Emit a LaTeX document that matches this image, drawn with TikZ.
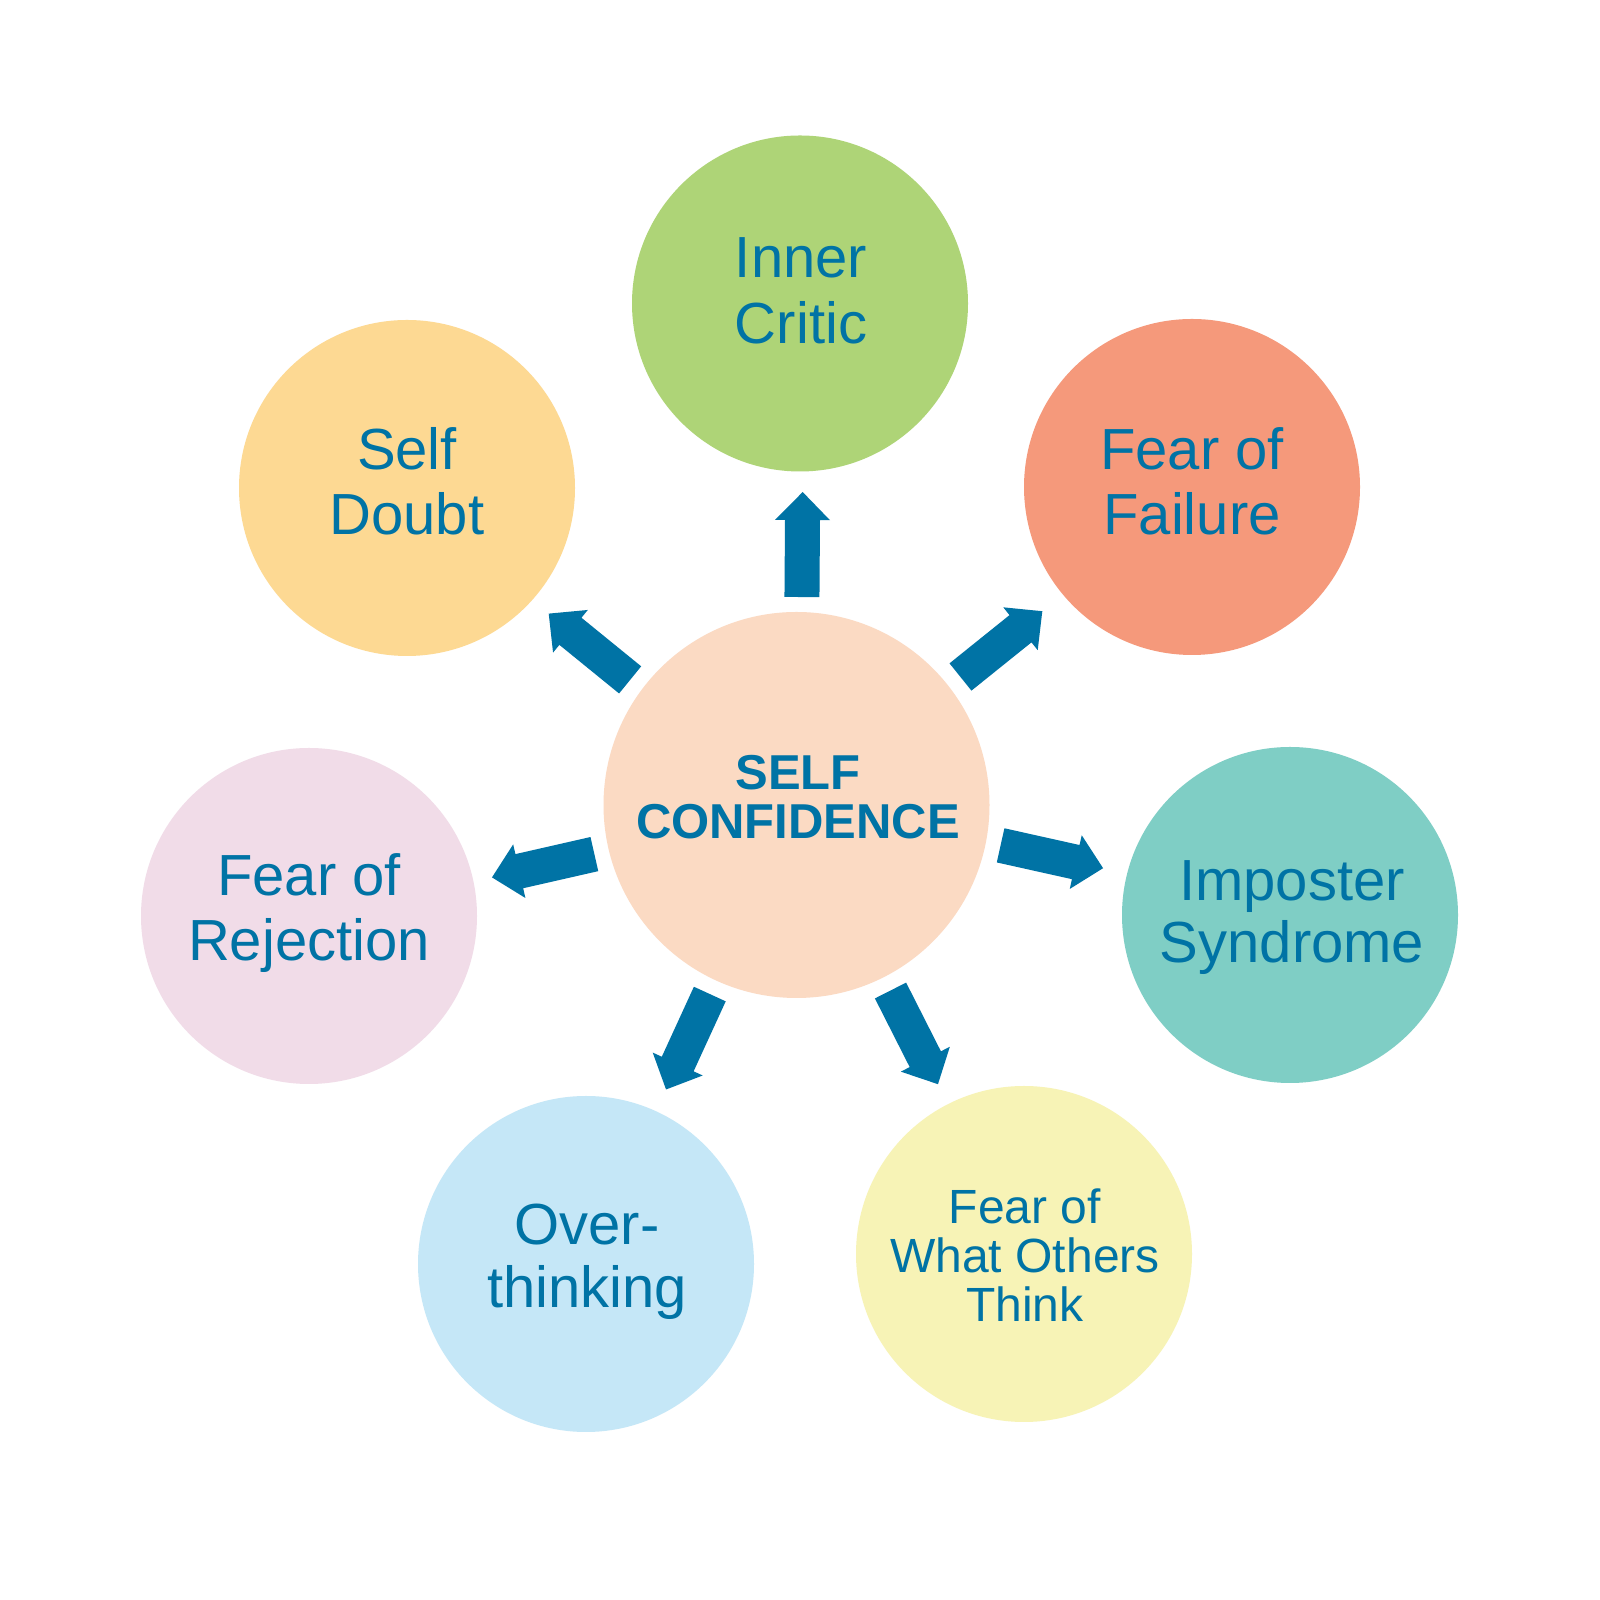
\documentclass[tikz,border=0pt]{standalone}
\usepackage{fontspec}
\setmainfont{Liberation Sans}
\usetikzlibrary{calc}
\definecolor{txtblue}{RGB}{0,115,165}
\definecolor{cgreen}{RGB}{174,212,119}
\definecolor{csalmon}{RGB}{245,153,123}
\definecolor{corange}{RGB}{253,217,147}
\definecolor{cteal}{RGB}{127,206,197}
\definecolor{cpink}{RGB}{241,220,232}
\definecolor{cblue}{RGB}{197,231,247}
\definecolor{cyellow}{RGB}{247,243,182}
\definecolor{cpeach}{RGB}{251,218,195}
\tikzset{
  bubble/.style={circle, inner sep=0pt, minimum size=336pt},
  hub/.style={circle, inner sep=0pt, minimum size=386pt, fill=cpeach},
  lbl/.style={align=center, text=txtblue, inner sep=0pt, text depth=0pt, font=\fontsize{58}{65}\selectfont},
  smalllbl/.style={lbl, font=\fontsize{48}{49}\selectfont},
  hublbl/.style={align=center, text=txtblue, inner sep=0pt, text depth=0pt, font=\fontsize{49}{49}\selectfont\bfseries},
  arrowfill/.style={fill=txtblue, draw=none}
}
\begin{document}
\begin{tikzpicture}[x=1pt,y=1pt]
\useasboundingbox (0,0) rectangle (1600,1600);
\fill[white] (0,0) rectangle (1600,1600);
% nodes
\node[hub] (c) at (796.5,795) {};
\node[bubble, fill=cgreen]  (ic) at (800,1296.5) {};
\node[bubble, fill=csalmon] (ff) at (1192,1113) {};
\node[bubble, fill=corange] (sd) at (407,1112) {};
\node[bubble, fill=cteal]   (im) at (1290,685) {};
\node[bubble, fill=cpink]   (fr) at (309,684) {};
\node[bubble, fill=cblue]   (ov) at (586,336) {};
\node[bubble, fill=cyellow] (fw) at (1024,346) {};
% labels
\node[hublbl] (tc) at (798,803.3) {SELF\\CONFIDENCE};
\node[lbl, font=\fontsize{58}{66}\selectfont] (tic) at (801,1309.2) {Inner\\Critic};
\node[lbl] (tff) at (1192,1119.4) {Fear of\\Failure};
\node[lbl] (tsd) at (407,1119.4) {Self\\Doubt};
\node[lbl, font=\fontsize{58}{62}\selectfont] (tim) at (1292,688.5) {Imposter\\Syndrome};
\node[lbl] (tfr) at (309,692.5) {Fear of\\Rejection};
\node[lbl, font=\fontsize{58}{63}\selectfont] (tov) at (587,344.3) {Over-\\thinking};
\node[smalllbl] (tfw) at (1025,345) {Fear of\\What Others\\Think};
% arrows: target node / sideways offset
\foreach \o/\s in {ic/-4,ff/-3,sd/8,im/5,fr/3,ov/0,fw/0}{
  \coordinate (A0) at ($(c.center)!208pt!(\o.center)$);
  \coordinate (T0) at ($(c.center)!313pt!(\o.center)$);
  \coordinate (A) at ($(A0)!\s pt!90:(T0)$);
  \coordinate (T) at ($(T0)!\s pt!-90:(A0)$);
  \coordinate (B) at ($(A)!77pt!(T)$);
  \fill[arrowfill]
    ($(A)!17.5pt!90:(T)$) -- ($(B)!17.5pt!90:(T)$) -- ($(B)!27.5pt!90:(T)$) --
    (T) --
    ($(B)!27.5pt!-90:(T)$) -- ($(B)!17.5pt!-90:(T)$) -- ($(A)!17.5pt!-90:(T)$) -- cycle;
}
\end{tikzpicture}
\end{document}
